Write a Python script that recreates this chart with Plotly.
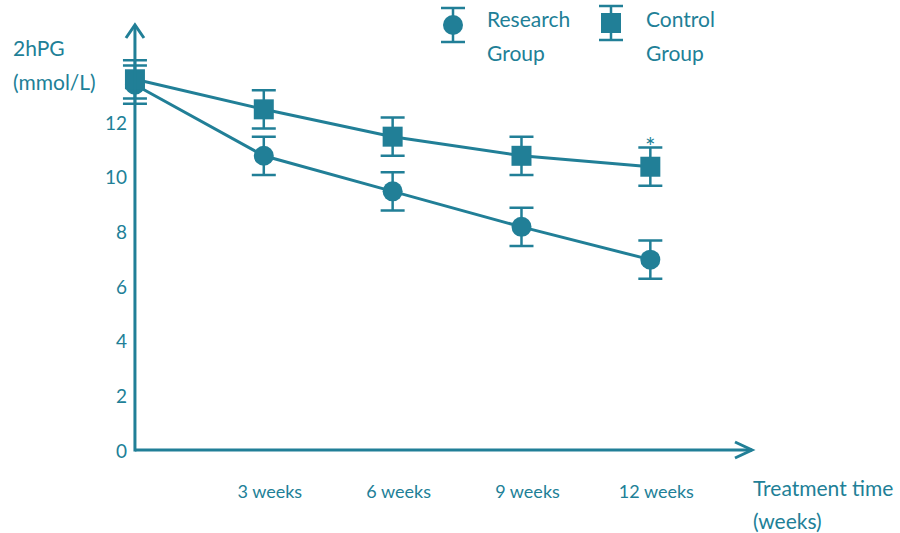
import plotly.graph_objects as go

# ---- data -------------------------------------------------------------
weeks = [0, 3, 6, 9, 12]
week_ticks = [3, 6, 9, 12]
week_labels = ["3 weeks", "6 weeks", "9 weeks", "12 weeks"]

research_mean = [13.4, 10.8, 9.5, 8.2, 7.0]
research_err = [0.7, 0.7, 0.7, 0.7, 0.7]
control_mean = [13.6, 12.5, 11.5, 10.8, 10.4]
control_err = [0.7, 0.7, 0.7, 0.7, 0.7]

y_ticks = [0, 2, 4, 6, 8, 10, 12]

# ---- style ------------------------------------------------------------
TEAL = "#217f97"
FONT = "Lato"

# plot area geometry (pixels)
L, R, T, B = 92, 138, 0, 82
W, H = 900, 533
PW = W - L - R          # 670
PH = H - T - B          # 451
X_RANGE = [-1, 14.6]


def px(x):
    """page pixel x -> paper fraction"""
    return (x - L) / PW


def py(y):
    """page pixel y -> paper fraction"""
    return (T + PH - y) / PH


fig = go.Figure()

err_style = dict(type="data", visible=True, color=TEAL, thickness=2.5, width=12)

fig.add_trace(go.Scatter(
    x=weeks, y=research_mean, name="Research Group",
    mode="lines+markers",
    line=dict(color=TEAL, width=3),
    marker=dict(symbol="circle", size=20, color=TEAL),
    error_y=dict(array=research_err, **err_style),
    cliponaxis=False, showlegend=False,
))
fig.add_trace(go.Scatter(
    x=weeks, y=control_mean, name="Control Group",
    mode="lines+markers",
    line=dict(color=TEAL, width=3),
    marker=dict(symbol="square", size=20, color=TEAL),
    error_y=dict(array=control_err, **err_style),
    cliponaxis=False, showlegend=False,
))

# legend keys drawn on a pixel-scaled overlay axis pair
for kx, ky, sym in [(453, 25, "circle"), (611, 23, "square")]:
    fig.add_trace(go.Scatter(
        x=[kx], y=[ky], xaxis="x2", yaxis="y2", mode="markers",
        marker=dict(symbol=sym, size=20, color=TEAL),
        error_y=dict(type="data", array=[17], color=TEAL, thickness=2.5, width=12),
        cliponaxis=False, showlegend=False, hoverinfo="skip",
    ))

# significance mark on the last control point
fig.add_annotation(
    x=weeks[-1], y=control_mean[-1] + control_err[-1], xref="x", yref="y",
    text="*", showarrow=False, yshift=2,
    font=dict(family=FONT, size=25, color=TEAL),
)

# axis arrows
line = dict(color=TEAL, width=3)
x0_px = L + PW * (0 - X_RANGE[0]) / (X_RANGE[1] - X_RANGE[0])
ax_y = 450
fig.add_shape(type="line", xref="paper", yref="paper",
              x0=px(x0_px), x1=px(x0_px), y0=py(ax_y + 1.5), y1=py(25), line=line)
fig.add_shape(type="path", xref="paper", yref="paper",
              path=f"M {px(x0_px-9)},{py(38)} L {px(x0_px)},{py(25)} L {px(x0_px+9)},{py(38)}",
              line=line)
fig.add_shape(type="line", xref="paper", yref="paper",
              x0=px(x0_px), x1=px(752), y0=py(ax_y), y1=py(ax_y), line=line)
fig.add_shape(type="path", xref="paper", yref="paper",
              path=f"M {px(735)},{py(ax_y-8)} L {px(752)},{py(ax_y)} L {px(735)},{py(ax_y+8)}",
              line=line)


# legend / axis titles as text
def label(x, y, text, size=21):
    fig.add_annotation(x=px(x), y=py(y), xref="paper", yref="paper", text=text,
                       showarrow=False, xanchor="left", yanchor="middle",
                       font=dict(family=FONT, size=size, color=TEAL))


label(485, 18, "Research")
label(485, 52, "Group")
label(644, 18, "Control")
label(644, 52, "Group")
label(11, 47, "2hPG")
label(11, 82, "(mmol/L)")
label(751, 487, "Treatment time")
label(751, 520, "(weeks)")

fig.update_layout(
    width=W, height=H,
    margin=dict(l=L, r=R, t=T, b=B),
    paper_bgcolor="white", plot_bgcolor="white",
    font=dict(family=FONT, color=TEAL),
    xaxis=dict(
        range=X_RANGE, tickvals=week_ticks, ticktext=week_labels,
        showgrid=False, zeroline=False, showline=False, ticks="",
        ticklabelstandoff=28, ticklabelshift=6,
        tickfont=dict(family=FONT, size=18, color=TEAL),
    ),
    yaxis=dict(
        range=[0, 16.5], tickvals=y_ticks, anchor="free",
        position=(x0_px - L) / PW,
        showgrid=False, zeroline=False, showline=False, ticks="",
        ticklabelstandoff=8,
        tickfont=dict(family=FONT, size=19, color=TEAL),
    ),
    xaxis2=dict(overlaying="x", range=[L, L + PW], visible=False),
    yaxis2=dict(overlaying="y", range=[PH, 0], visible=False),
)

fig.write_html("out.html")
